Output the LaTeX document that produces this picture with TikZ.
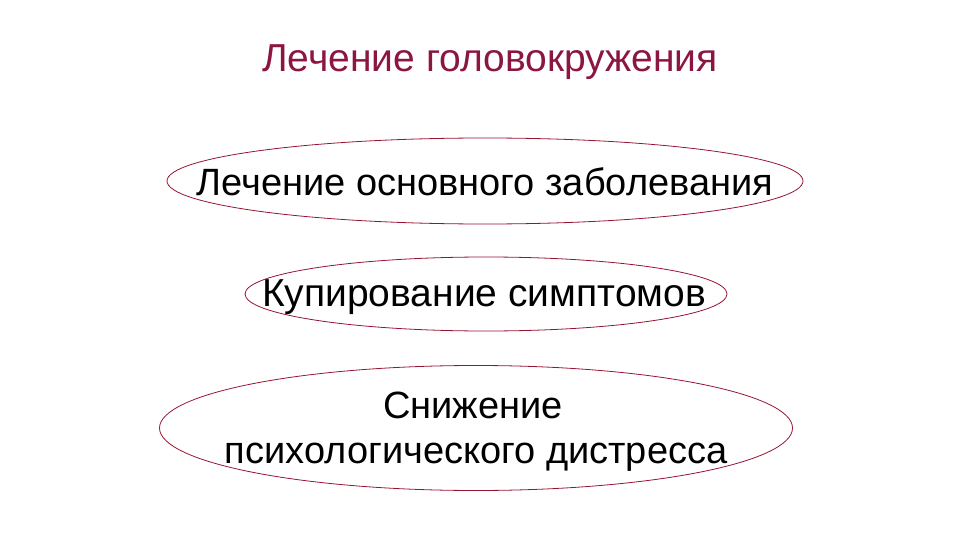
\documentclass[tikz,border=0pt]{standalone}
\usepackage{fontspec}
\setmainfont{Liberation Sans}
\usetikzlibrary{shapes.geometric}
\definecolor{maroon}{RGB}{139,22,66}
\definecolor{ellred}{RGB}{150,20,50}
\tikzset{
  oval/.style={draw=ellred, line width=0.8pt, ellipse, inner sep=0pt},
  txt/.style={font=\fontsize{38}{45}\selectfont, text=black, anchor=base, inner sep=0pt, align=center},
  ttl/.style={font=\fontsize{39}{45}\selectfont, text=maroon, anchor=base, inner sep=0pt}
}
\begin{document}
\begin{tikzpicture}[x=1pt,y=-1pt]
\useasboundingbox (0,0) rectangle (960,540);
\node[ttl] (title) at (490,72) {Лечение головокружения};
\node[oval, minimum width=636pt, minimum height=86pt] (e1) at (485,181) {};
\node[oval, minimum width=482pt, minimum height=74pt] (e2) at (486,294) {};
\node[oval, minimum width=633pt, minimum height=125pt] (e3) at (476,428) {};
\node[txt] (t1) at (485,195) {Лечение основного заболевания};
\node[txt, font=\fontsize{39}{45}\selectfont] (t2) at (484,306) {Купирование симптомов};
\node[txt] (t3a) at (473,418) {Снижение};
\node[txt] (t3b) at (476,463) {психологического дистресса};
\end{tikzpicture}
\end{document}
